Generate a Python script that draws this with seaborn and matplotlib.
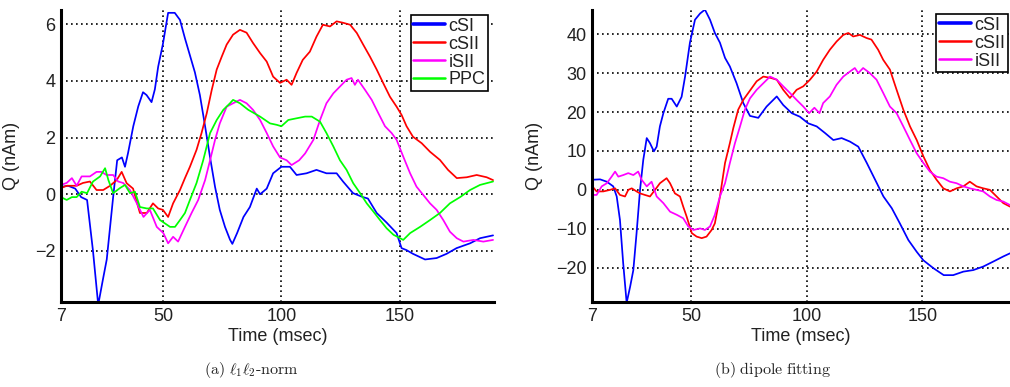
import numpy as np
import pandas as pd
import matplotlib
matplotlib.use("Agg")
import matplotlib.pyplot as plt
import seaborn as sns

# ---------------- data: (a) l1l2-norm ----------------
a_csi_t = [7, 10, 13, 15.5, 18, 20.5, 22.7, 24.7, 26.3, 29, 30.7, 32.7, 34, 35.3, 37.5, 39.6, 41.6, 43.1, 45.2, 46.6,
           48, 50, 52.2, 53.7, 55, 57.2, 59.3, 61.4, 63.5, 65.6, 67.8, 69.9, 72, 74, 76.2, 78.3, 79.3, 81.3, 84, 86.7,
           89.6, 91, 93.8, 96.5, 100, 103.6, 106.4, 110.6, 114.8, 119, 123.3, 126, 130.2, 134.4, 136.5, 140.2, 144.4,
           148.6, 150.7, 152.8, 155.5, 160.6, 165.5, 169.7, 173.9, 179.6, 183.8, 189.3]
a_csi_v = [0.26, 0.3, 0.2, -0.1, -0.2, -2.0, -3.9, -3.0, -2.3, -0.1, 1.2, 1.3, 0.97, 1.46, 2.4, 3.1, 3.6, 3.5, 3.25, 3.7,
           4.5, 5.3, 6.4, 6.4, 6.4, 6.15, 5.5, 4.9, 4.3, 3.5, 2.4, 1.3, 0.26, -0.55, -1.15, -1.6, -1.75, -1.37, -0.8, -0.45,
           0.2, 0.0, 0.2, 0.74, 0.97, 0.97, 0.68, 0.74, 0.86, 0.74, 0.74, 0.45, 0.04, -0.1, -0.15, -0.66, -1.0,
           -1.37, -1.9, -1.97, -2.1, -2.3, -2.25, -2.1, -1.9, -1.73, -1.55, -1.45]

a_csii_t = [7, 9.4, 13.6, 16.3, 19.2, 22, 24.8, 27.7, 30.5, 32.6, 34.7, 37.4, 40.3, 43.2, 45.8, 48, 50, 52.2, 54.3, 57.2,
            59.3, 61.4, 64.2, 66.3, 68.5, 70.6, 72.7, 74.8, 76.9, 79.6, 82.5, 85.3, 88, 91, 93.8, 96.5, 99.4, 102.2,
            104.3, 106.4, 109, 112, 114.8, 117.5, 120.5, 123.3, 126, 129, 131.8, 134.5, 137.4, 140.2, 142.9, 145.8,
            148.6, 150.7, 152.8, 155.5, 159.2, 162.7, 166.9, 170.3, 174, 178.2, 182.4, 186.6, 189.3]
a_csii_v = [0.22, 0.3, 0.3, 0.4, 0.45, 0.15, 0.15, 0.3, 0.5, 0.79, 0.39, 0.2, -0.66, -0.66, -0.32, -0.5, -0.55, -0.8, -0.32,
            0.15, 0.57, 0.97, 1.57, 2.16, 2.86, 3.68, 4.4, 4.85, 5.28, 5.63, 5.8, 5.7, 5.34, 4.98, 4.68, 4.15, 3.93, 4.04,
            3.86, 4.28, 4.74, 5.03, 5.56, 5.98, 5.92, 6.1, 6.05, 5.98, 5.69, 5.28, 4.85, 4.4, 3.93, 3.44, 3.09, 2.8, 2.4,
            2.03, 1.8, 1.5, 1.21, 0.86, 0.57, 0.6, 0.68, 0.6, 0.5]

a_isii_t = [7, 9.4, 11.6, 13.6, 15.7, 19.2, 22, 24.1, 26.2, 29, 31.1, 33.2, 36.1, 39, 41.8, 44.5, 47.4, 50.2, 52.2, 54.3,
            56.4, 59.3, 62.1, 64.9, 67.8, 69.9, 72, 74, 76.9, 79.6, 82.5, 85.3, 88, 91, 93.8, 96.5, 99.4, 102.2, 104.3,
            107.5, 110, 113.5, 116.3, 119, 121.9, 124.7, 127.5, 129.6, 131, 132.3, 135.3, 138.1, 140.9, 143.7, 146.5,
            148.6, 151.4, 154.3, 157, 159.9, 162.7, 165.5, 168.3, 171.1, 174, 176.8, 181, 185.2, 189.3]
a_isii_v = [0.33, 0.4, 0.57, 0.3, 0.63, 0.63, 0.79, 0.79, 0.68, 0.68, 0.45, 0.4, 0.15, -0.32, -0.8, -0.55, -1.15, -1.37,
            -1.73, -1.5, -1.67, -1.15, -0.66, -0.2, 0.5, 1.2, 1.92, 2.5, 3.09, 3.21, 3.33, 3.21, 2.98, 2.62, 2.16, 1.69,
            1.3, 1.2, 1.03, 1.2, 1.44, 1.92, 2.62, 3.21, 3.56, 3.8, 4.04, 4.1, 3.86, 4.04, 3.68, 3.33, 2.86, 2.4, 2.16,
            1.92, 1.33, 0.74, 0.27, -0.03, -0.32, -0.55, -0.91, -1.32, -1.55, -1.67, -1.61, -1.67, -1.61]

a_ppc_t = [7, 9.4, 11.6, 13.6, 15.7, 18, 20.5, 23.5, 25.6, 27, 29, 31.9, 34, 36.1, 38.2, 40.3, 43.2, 45.8, 48.8, 50.9,
           53, 55.1, 57.2, 59.3, 61.4, 64.2, 67, 69.9, 72.7, 75.5, 78.3, 79.6, 82.5, 86, 91, 95.2, 98, 100, 102.9, 106.4,
           110, 112.8, 116.3, 119, 121.9, 124.7, 127.5, 130.3, 133.2, 136, 138.8, 141.6, 144.4, 147.3, 150.1, 151.4,
           154.3, 158.5, 162.7, 166.9, 171.1, 175.4, 179.6, 183.8, 189.3]
a_ppc_v = [-0.1, -0.2, -0.1, -0.1, 0.09, 0.04, 0.45, 0.63, 0.92, 0.5, 0.04, 0.22, 0.33, 0.04, 0.09, -0.45, -0.5, -0.5,
           -0.91, -1.03, -1.15, -1.15, -0.91, -0.66, -0.2, 0.4, 1.2, 2.16, 2.62, 2.98, 3.21, 3.33, 3.21, 2.98, 2.74, 2.5,
           2.45, 2.4, 2.62, 2.68, 2.74, 2.74, 2.56, 2.16, 1.69, 1.2, 0.86, 0.39, 0.04, -0.32, -0.61, -0.91, -1.2, -1.43,
           -1.55, -1.61, -1.37, -1.15, -0.91, -0.66, -0.32, -0.1, 0.15, 0.33, 0.45]

# ---------------- data: (b) dipole fitting ----------------
b_csi_t = [7, 10.5, 13.4, 16.2, 17.7, 19.1, 20.5, 22, 23.5, 24.9, 26.3, 27.8, 29.2, 30.7, 32.1, 33.8, 35, 36.4, 37.9, 40,
           41.5, 43.7, 45.8, 47.3, 49.4, 51.6, 53.8, 55.9, 58.1, 60.2, 62.4, 64.6, 66.7, 69.6, 72.5, 75.4, 79, 82.6, 87,
           89.8, 93.5, 97, 100.6, 104.3, 107.9, 111.5, 115.1, 118.7, 122.3, 126, 129.6, 133.2, 136.8, 140.3, 144, 147.6,
           150.5, 154.8, 159.3, 163.4, 167.8, 172.1, 176.4, 180.8, 185.1, 188]
b_csi_v = [2.6, 2.7, 2.1, 0.9, -1.7, -7.7, -18.8, -29, -24.9, -20.6, -11.1, 0, 7.7, 13.3, 12.0, 9.9, 11.1, 16.3, 19.7,
           23.4, 23.4, 21.4, 23.9, 29.1, 37.8, 43.7, 45.3, 46.3, 43.7, 40.3, 37.8, 33.9, 31.7, 27.4, 22.3, 19.0, 18.5,
           21.4, 24, 21.8, 19.7, 18.8, 17.1, 16.3, 14.6, 12.8, 13.3, 12.4, 11.1, 6.9, 2.6, -1.7, -4.7, -8.6, -12.9, -15.9,
           -18.1, -20.1, -21.9, -21.9, -21.0, -20.6, -19.7, -18.4, -17.1, -16.3]

b_csii_t = [7, 9, 11.9, 14.8, 17, 19.1, 21.3, 22.7, 24.2, 26.3, 27.8, 29.9, 32.1, 34.3, 36.4, 39.3, 40.8, 42.9, 45.1,
            46.5, 48, 50.2, 52.3, 54.5, 56.6, 58.8, 60.2, 62.4, 64.6, 66.7, 68.2, 70.3, 72.5, 75.4, 78.3, 81.2, 84.1, 87,
            89.8, 92.7, 95.6, 98.5, 101.4, 104.3, 107.1, 110, 112.9, 115.8, 118, 120.1, 123, 125.9, 128, 130.9, 133.1,
            136, 138.9, 141.8, 144.7, 147.6, 150.5, 153.3, 156.2, 159.1, 162, 164.9, 167.8, 170.6, 173.5, 176.4, 179.3,
            182.2, 185.1, 188]
b_csii_v = [1.0, -0.4, -0.4, 0, 0.4, -1.3, -1.7, 0, 0.4, -0.4, -0.9, -1.3, -1.7, 0, 1.7, 3.0, 1.7, -0.9, -1.7, -4.3,
            -6.9, -11.1, -12.0, -12.4, -12.0, -10.3, -8.6, -1.7, 6.9, 12, 15.9, 20.6, 23.1, 25.5, 27.9, 29.1, 28.8, 28.3,
            25.7, 23.6, 25.7, 26.6, 28.3, 30.4, 33.4, 36.0, 38.1, 39.8, 40.3, 39.4, 39.8, 39.0, 38.6, 36.0, 33.4, 30.9,
            25.7, 20.6, 16.3, 12.8, 8.6, 5.1, 2.6, 0.4, -0.4, 0.4, 0.9, 2.1, 0.9, 0.4, 0, -1.7, -3.4, -4.3]

b_isii_t = [7, 9, 11.2, 13.4, 15.5, 17, 18.4, 20.5, 22.7, 24.9, 27, 28.5, 30.7, 32.8, 35, 37.9, 40.8, 43.7, 46.5, 48.7,
            50.9, 53.8, 55.9, 58.1, 60.2, 62.4, 64.6, 66.7, 68.9, 71.1, 73.2, 75.4, 78.3, 81.2, 84.1, 87, 89.8, 92.7,
            95.6, 98.5, 101, 103.3, 105.5, 107.1, 110, 112.9, 115.8, 118.7, 120.8, 122.3, 124.4, 127.3, 130.2, 133.1,
            136, 138.9, 141.8, 144.7, 147.6, 150.5, 153.3, 156.2, 159.1, 162, 164.9, 167.8, 170.6, 173.5, 176.4, 179.3,
            182.2, 185.1, 188]
b_isii_v = [-1.3, -1.3, 0.9, 1.7, 3.4, 4.7, 3.4, 3.8, 4.3, 3.8, 4.7, 2.6, 0.9, 2.1, -1.7, -3.4, -5.6, -6.4, -7.3, -9.4,
            -10.3, -9.9, -10.3, -9.4, -6.4, -1.7, 1.7, 6.9, 12, 16.3, 20.6, 23.5, 25.7, 27.4, 29.1, 28.3, 26.6, 24.9,
            23.1, 21.4, 19.7, 21.1, 19.7, 22.3, 24.0, 27.0, 29.1, 30.4, 31.3, 30, 31.3, 30.0, 28.3, 24.9, 21.4, 19.7,
            16.3, 12.8, 9.4, 6.9, 4.7, 3.4, 3.0, 2.1, 1.7, 0.9, 0.4, 0, -0.4, -1.7, -2.6, -3.0, -3.9]

regions_a = ["cSI", "cSII", "iSII", "PPC"]
regions_b = ["cSI", "cSII", "iSII"]
x_ticks = [7, 50, 100, 150]
y_ticks_a = [-2, 0, 2, 4, 6]
y_ticks_b = [-20, -10, 0, 10, 20, 30, 40]
captions = [r"$\mathrm{(a)}\ \ell_1\ell_2\mathrm{\text{-}norm}$", r"$\mathrm{(b)\ dipole\ fitting}$"]

palette = {"cSI": "#0000ff", "cSII": "#ff0000", "iSII": "#ff00ff", "PPC": "#00ff00"}


def long_df(pairs, names):
    frames = []
    for (t, v), n in zip(pairs, names):
        frames.append(pd.DataFrame({"t": t, "Q": v, "region": n}))
    return pd.concat(frames, ignore_index=True)


df_a = long_df([(a_csi_t, a_csi_v), (a_csii_t, a_csii_v), (a_isii_t, a_isii_v), (a_ppc_t, a_ppc_v)], regions_a)
df_b = long_df([(b_csi_t, b_csi_v), (b_csii_t, b_csii_v), (b_isii_t, b_isii_v)], regions_b)

sns.set_style("white")
plt.rcParams["font.family"] = ["Liberation Sans", "DejaVu Sans"]
plt.rcParams["mathtext.fontset"] = "cm"

fig = plt.figure(figsize=(10.10, 3.87), dpi=100)
ax_a = fig.add_axes([61 / 1010, 1 - 302 / 387, 433 / 1010, 292 / 387])
ax_b = fig.add_axes([592 / 1010, 1 - 302 / 387, 418 / 1010, 292 / 387])

specs = [
    (ax_a, df_a, regions_a, (7, 189.7), (-3.8, 6.5), y_ticks_a, -0.095, (407, 15, 488, 97)),
    (ax_b, df_b, regions_b, (7, 188.0), (-28.8, 46.2), y_ticks_b, -0.118, (935, 14, 1008, 77)),
]

for ax, df, names, xl, yl, yt, ylab_x, legbox in specs:
    sns.lineplot(data=df, x="t", y="Q", hue="region", hue_order=names, palette=palette,
                 estimator=None, sort=False, linewidth=1.25, legend=False, ax=ax)
    ax.set_xlim(*xl)
    ax.set_ylim(*yl)
    ax.set_xticks(x_ticks)
    ax.set_yticks(yt)
    ax.set_axisbelow(True)
    ax.grid(True, color="black", linestyle=(0, (1.0, 2.0)), linewidth=1.2)
    for s in ["top", "right"]:
        ax.spines[s].set_visible(False)
    for s in ["left", "bottom"]:
        ax.spines[s].set_color("black")
        ax.spines[s].set_linewidth(2.2)
    ax.tick_params(axis="both", direction="in", length=3, width=1, labelsize=13,
                   labelcolor="#222222", pad=4)
    ax.set_xlabel("Time (msec)", fontsize=13, color="#222222")
    ax.set_ylabel("Q (nAm)", fontsize=13, color="#222222")
    ax.xaxis.set_label_coords(0.5, -0.088)
    ax.yaxis.set_label_coords(ylab_x, 0.5)
    lines = ax.get_lines()[:len(names)]
    x0, y0, x1, y1 = legbox
    leg = ax.legend(lines, names, loc="upper right", fontsize=13, frameon=True, fancybox=False,
                    edgecolor="black", framealpha=1, borderpad=0.15, labelspacing=0.05,
                    handlelength=1.75, handletextpad=0.2, borderaxespad=0,
                    bbox_to_anchor=(x1 / 1010, 1 - y0 / 387), bbox_transform=fig.transFigure)
    leg.get_frame().set_linewidth(1.2)
    for i, ln in enumerate(leg.get_lines()):
        ln.set_linewidth(2.6 if i == 0 else 1.8)
    for tx in leg.get_texts():
        tx.set_color("#222222")

fig.text(251 / 1010, 1 - 370 / 387, captions[0], ha="center", va="center", fontsize=11.5, color="#222222")
fig.text(773 / 1010, 1 - 370 / 387, captions[1], ha="center", va="center", fontsize=11.5, color="#222222")

fig.savefig("out.png", dpi=100)
